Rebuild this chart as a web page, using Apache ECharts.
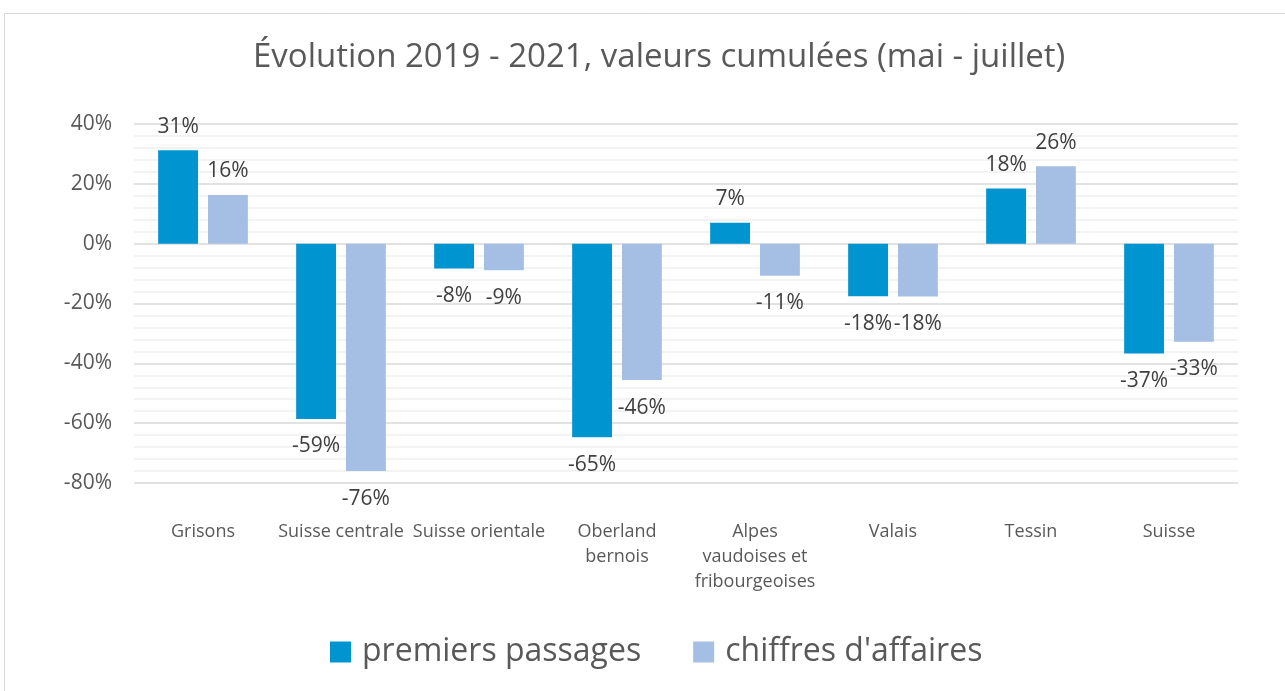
<!DOCTYPE html>
<html>
<head>
<meta charset="utf-8">
<script src="https://cdn.jsdelivr.net/npm/echarts@6/dist/echarts.min.js"></script>
<style>
  html, body { margin: 0; padding: 0; background: #fff; }
  #echart { width: 1285px; height: 691px; }
</style>
</head>
<body>
<div id="echart"></div>
<script>
const categories = ['Grisons', 'Suisse centrale', 'Suisse orientale', 'Oberland\nbernois',
    'Alpes\nvaudoises et\nfribourgeoises', 'Valais', 'Tessin', 'Suisse'];
const premiersPassages = [31.2, -58.6, -8.3, -64.7, 7.0, -17.6, 18.4, -36.7];
const chiffresAffaires = [16.3, -76.0, -8.9, -45.6, -10.7, -17.7, 25.9, -32.8];
const yTicks = { min: -80, max: 40, interval: 20 };

const FONT = 'Open Sans';
const chart = echarts.init(document.getElementById('echart'));

// étiquette au-dessus si positif, en dessous si négatif
function withLabels(values) {
    return values.map(v => ({
        value: v,
        label: {
            position: v >= 0 ? 'top' : 'bottom',
            distance: v >= 0 ? 13 : 17
        }
    }));
}

const labelStyle = {
    show: true,
    fontFamily: FONT,
    fontSize: 21,
    color: '#404040',
    formatter: p => Math.round(p.value) + '%'
};

const option = {
    animation: false,
    textStyle: { fontFamily: FONT },
    graphic: [{
        type: 'rect',
        shape: { x: 4.5, y: 13.5, width: 1300, height: 700 },
        style: { fill: 'none', stroke: '#d9d9d9', lineWidth: 1 },
        silent: true
    }],
    title: {
        text: 'Évolution 2019 - 2021, valeurs cumulées (mai - juillet)',
        left: 248,
        top: 36,
        textStyle: { fontFamily: FONT, fontSize: 33, fontWeight: 'normal', color: '#595959' }
    },
    legend: {
        bottom: 18,
        left: 325,
        itemWidth: 21,
        itemHeight: 21,
        itemGap: 52,
        icon: 'rect',
        textStyle: { fontFamily: FONT, fontSize: 32, color: '#595959', padding: [0, 0, 0, 6] },
        data: ['premiers passages', "chiffres d'affaires"]
    },
    grid: { left: 134, right: 47, top: 124, bottom: 208 },
    xAxis: {
        type: 'category',
        data: categories,
        position: 'bottom',
        axisLine: { show: false, onZero: false },
        axisTick: { show: false },
        axisLabel: {
            interval: 0,
            margin: 36,
            fontFamily: FONT,
            fontSize: 18,
            lineHeight: 25,
            color: '#595959'
        }
    },
    yAxis: {
        type: 'value',
        min: yTicks.min,
        max: yTicks.max,
        interval: yTicks.interval,
        axisLine: { show: false },
        axisTick: { show: false },
        axisLabel: {
            fontFamily: FONT,
            fontSize: 21,
            color: '#595959',
            margin: 22,
            formatter: v => v + '%'
        },
        splitLine: { lineStyle: { color: '#d9d9d9', width: 1.5 } },
        minorTick: { show: false, splitNumber: 5 },
        minorSplitLine: { show: true, lineStyle: { color: '#f0f0f0', width: 1.5 } }
    },
    series: [{
        name: 'premiers passages',
        type: 'bar',
        data: withLabels(premiersPassages),
        barGap: '25%',
        barCategoryGap: '35%',
        itemStyle: { color: '#0094d1' },
        label: labelStyle
    }, {
        name: "chiffres d'affaires",
        type: 'bar',
        data: withLabels(chiffresAffaires),
        itemStyle: { color: '#a4bfe3' },
        label: labelStyle
    }]
};

chart.setOption(option);
</script>
</body>
</html>
